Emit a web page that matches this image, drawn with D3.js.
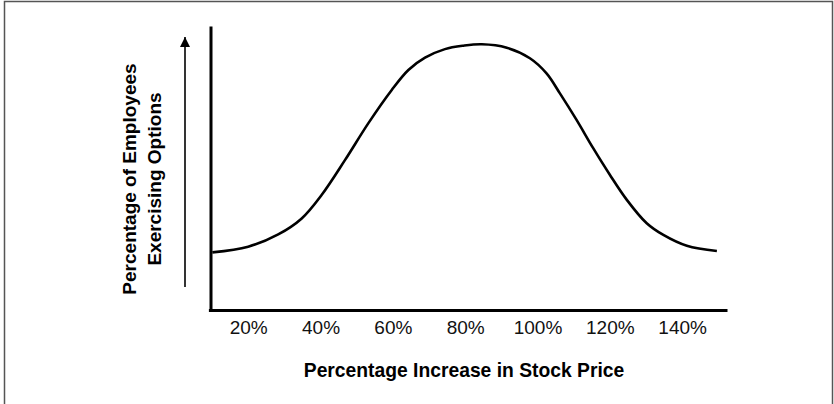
<!DOCTYPE html>
<html>
<head>
<meta charset="utf-8">
<script src="https://cdn.jsdelivr.net/npm/d3@7"></script>
<style>
  body { margin: 0; background: #fff; }
  svg { display: block; font-family: "Liberation Sans", Arial, Helvetica, sans-serif; }
</style>
</head>
<body>
<svg id="chart"></svg>
<script>
// stock price increase (%) and share of employees exercising (relative units)
let priceIncrease = [10.1, 20.0, 28.3, 34.8, 40.3, 46.8, 53.2, 59.7, 64.3, 68.9, 74.4, 79.5,
  84.6, 91.5, 97.9, 102.5, 106.2, 110.8, 115.4, 120.0, 124.7, 130.2, 134.8, 141.3, 149.6];
let exercising = [20.7, 22.7, 27.0, 32.6, 40.8, 53.1, 65.9, 77.6, 84.6, 88.9, 91.9, 93.1,
  93.6, 92.4, 88.7, 83.4, 76.4, 67.1, 57.2, 47.9, 39.1, 30.9, 26.8, 23.0, 21.2];
let tickValues = [20, 40, 60, 80, 100, 120, 140];
let tickLabels = ["20%", "40%", "60%", "80%", "100%", "120%", "140%"];

let width = 834;
let height = 404;

let xScale = d3.scaleLinear().domain([9, 152.4]).range([208.4, 727]);
let yScale = d3.scaleLinear().domain([0, 100]).range([311.5, 26]);

let svg = d3.select("#chart").attr("width", width).attr("height", height);

// frame round the figure
svg.append("rect")
  .attr("x", 4.5)
  .attr("y", 1.5)
  .attr("width", 828)
  .attr("height", 404)
  .attr("fill", "none")
  .attr("stroke", "#555")
  .attr("stroke-width", 1.5);

// x axis: thick line, labels only
let xAxis = svg.append("g")
  .attr("transform", "translate(0,310)")
  .call(
    d3.axisBottom(xScale)
      .tickValues(tickValues)
      .tickSize(0)
      .tickSizeOuter(0)
      .tickPadding(0)
      .tickFormat((d, i) => tickLabels[i])
  );
xAxis.select(".domain").attr("stroke", "#000").attr("stroke-width", 3);
xAxis.selectAll("text")
  .attr("dy", null)
  .attr("y", 23.5)
  .attr("fill", "#111")
  .style("font-size", "19px")
  .style("font-family", "Liberation Sans, Arial, sans-serif");

// y axis: no ticks at all
let yAxis = svg.append("g")
  .attr("transform", "translate(210.5,0)")
  .call(d3.axisLeft(yScale).tickValues([]).tickSizeOuter(0));
yAxis.select(".domain").attr("stroke", "#000").attr("stroke-width", 3);

// the curve
let line = d3.line()
  .x((d, i) => xScale(priceIncrease[i]))
  .y((d) => yScale(d))
  .curve(d3.curveCatmullRom);

svg.append("path")
  .datum(exercising)
  .attr("d", line)
  .attr("fill", "none")
  .attr("stroke", "#000")
  .attr("stroke-width", 2.6);

// arrow next to the y title
svg.append("defs").append("marker")
  .attr("id", "head")
  .attr("viewBox", "0 0 10 10")
  .attr("refX", 10)
  .attr("refY", 5)
  .attr("markerUnits", "userSpaceOnUse")
  .attr("markerWidth", 10)
  .attr("markerHeight", 11)
  .attr("orient", "auto")
  .append("path")
  .attr("d", "M0,0L10,5L0,10Z")
  .attr("fill", "#000");

svg.append("line")
  .attr("x1", 185)
  .attr("x2", 185)
  .attr("y1", 287)
  .attr("y2", 37)
  .attr("stroke", "#000")
  .attr("stroke-width", 1.6)
  .attr("marker-end", "url(#head)");

// titles
let yTitle = svg.append("text")
  .attr("transform", "translate(136,179) rotate(-90)")
  .attr("text-anchor", "middle")
  .style("font-size", "19px")
  .style("font-weight", "bold");
yTitle.append("tspan").attr("x", 0).attr("y", 0).text("Percentage of Employees");
yTitle.append("tspan").attr("x", 0).attr("y", 25).text("Exercising Options");

svg.append("text")
  .attr("x", 464)
  .attr("y", 376.5)
  .attr("text-anchor", "middle")
  .style("font-size", "19.3px")
  .style("font-weight", "bold")
  .text("Percentage Increase in Stock Price");
</script>
</body>
</html>
